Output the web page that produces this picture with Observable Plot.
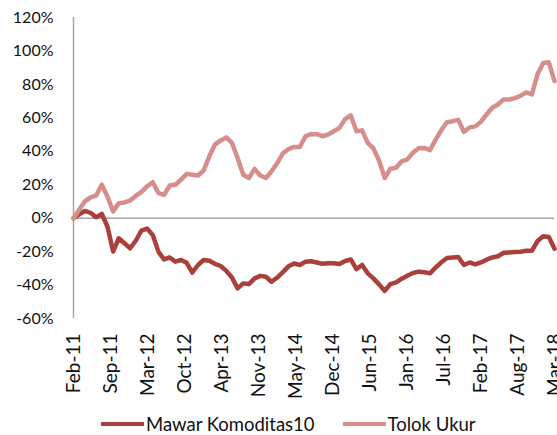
<!DOCTYPE html>
<html><head><meta charset="utf-8">
<script src="https://cdn.jsdelivr.net/npm/d3@7"></script>
<script src="https://cdn.jsdelivr.net/npm/@observablehq/plot@0.6"></script>
<style>
body{margin:0;background:#fff;font-family:Lato,sans-serif;overflow:hidden;}
#chart svg{display:block;}
#legend{display:flex;align-items:center;height:20px;line-height:20px;margin-top:9px;padding-left:101px;font-size:18.5px;color:#111;white-space:nowrap;}
.sw{width:43px;height:4.5px;margin-right:2px;}
.item{display:flex;align-items:center;margin-right:28px;}
</style></head><body>
<div id="chart"></div>
<div id="legend"></div>
<script>
const series = ["Mawar Komoditas10", "Tolok Ukur"];
const colors = ["#A9403B", "#D58E8C"];
// monthly values, Feb-11 .. Mar-18, in percent
const mawar = [0,2.3,4.3,3.2,0.5,2.5,-5,-20,-12,-15,-18,-13.5,-7.5,-6.2,-10,-20,-24.7,-23.5,-26,-25,-26.7,-32.5,-28,-25,-25.5,-27.3,-28.6,-31.5,-35.5,-42,-39,-39.4,-36,-34.5,-35,-38,-35.5,-32.3,-28.8,-27.1,-28,-26,-25.8,-26.5,-27.3,-27,-27,-27.4,-25.6,-24.7,-30.5,-28,-33,-36,-39.6,-43.5,-39.4,-38.4,-36.2,-34.4,-32.8,-32,-32.3,-33,-29.5,-26.4,-23.8,-23.5,-23.2,-28,-26.5,-27.7,-26.5,-24.8,-23.5,-22.8,-20.7,-20.5,-20.3,-20.1,-19.5,-19.5,-13.7,-10.8,-11.3,-18.3];
const tolok = [0,5,10,12.4,13.5,20,13,4,9,9.4,10.5,13.3,15.7,19,21.5,15,14,19.5,20,23,26.5,26,25.5,28.5,37,44,46.5,48.3,45,36,26,24,29.5,25.5,24,28,33,38.8,41.3,42.6,42.6,49,50.4,50.2,49,50,52,54,59.2,61.4,52,52.5,45,41.7,34.3,24,29.6,30.1,34,35.2,39.2,41.8,42,40.7,47,52.7,57.4,58,58.8,51.5,54.3,54.9,57.7,62,66,68,71,71,71.8,73.2,75.2,74,86,92.8,93.2,82];
const tickLabels = ["Feb-11","Sep-11","Mar-12","Oct-12","Apr-13","Nov-13","May-14","Dec-14","Jun-15","Jan-16","Jul-16","Feb-17","Aug-17","Mar-18"];
const yTicks = [-60,-40,-20,0,20,40,60,80,100,120];

const data = [
  ...mawar.map((v, i) => ({i, v: v / 100, s: series[0]})),
  ...tolok.map((v, i) => ({i, v: v / 100, s: series[1]}))
];
const n = mawar.length - 1;
const step = n / (tickLabels.length - 1);
const ticks = tickLabels.map((t, k) => ({pos: k * step, label: t}));

const chart = Plot.plot({
  width: 557, height: 405,
  marginLeft: 73, marginRight: 3, marginTop: 17, marginBottom: 87,
  style: {fontFamily: "Lato, sans-serif", fontSize: "16px", color: "#111", background: "#fff"},
  x: {domain: [0, n], axis: null},
  y: {domain: [-0.6, 1.2], axis: null},
  color: {domain: series, range: colors},
  marks: [
    Plot.axisY(yTicks.map(d => d / 100), {label: null, tickSize: 0, tickPadding: 20, tickFormat: d => `${Math.round(d * 100)}%`, fontSize: 16, fill: "#111"}),
    Plot.ruleY([0], {stroke: "#a6a6a6", strokeWidth: 1.5}),
    Plot.ruleX([0], {stroke: "#a6a6a6", strokeWidth: 1.5}),
    Plot.line(data, {x: "i", y: "v", z: "s", stroke: "s", strokeWidth: 4.5, strokeLinejoin: "round", strokeLinecap: "round"}),
    Plot.text(ticks, {x: "pos", text: "label", frameAnchor: "bottom", rotate: -90, textAnchor: "end", lineAnchor: "middle", dy: 15, fontSize: 19, fill: "#111"})
  ]
});
document.getElementById("chart").appendChild(chart);

const legend = document.getElementById("legend");
series.forEach((s, k) => {
  const item = document.createElement("div");
  item.className = "item";
  const sw = document.createElement("div");
  sw.className = "sw";
  sw.style.background = colors[k];
  const label = document.createElement("span");
  label.textContent = s;
  item.appendChild(sw);
  item.appendChild(label);
  legend.appendChild(item);
});
</script>
</body></html>
